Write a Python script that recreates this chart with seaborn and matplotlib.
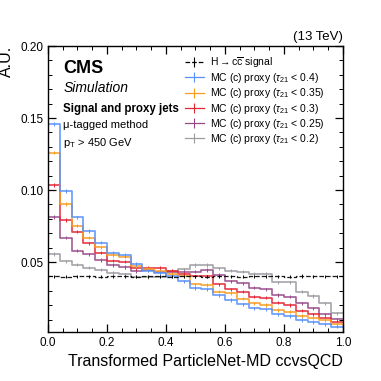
import numpy as np
import pandas as pd
import seaborn as sns
import matplotlib.pyplot as plt
from matplotlib.lines import Line2D
from matplotlib.ticker import MultipleLocator

# 25 bins of width 0.04 on the transformed score
edges = np.linspace(0.0, 1.0, 26)
centers = 0.5 * (edges[:-1] + edges[1:])

signal = [0.0400, 0.0399, 0.0401, 0.0400, 0.0399, 0.0401, 0.0400, 0.0398, 0.0400, 0.0401,
          0.0399, 0.0400, 0.0401, 0.0399, 0.0400, 0.0400, 0.0399, 0.0401, 0.0400, 0.0400,
          0.0398, 0.0403, 0.0401, 0.0400, 0.0400]
proxy_04 = [0.1460, 0.0995, 0.0810, 0.0715, 0.0634, 0.0565, 0.0549, 0.0486, 0.0440, 0.0425,
            0.0400, 0.0365, 0.0320, 0.0310, 0.0268, 0.0235, 0.0206, 0.0178, 0.0171, 0.0137,
            0.0125, 0.0097, 0.0083, 0.0067, 0.0051]
proxy_035 = [0.1260, 0.0903, 0.0752, 0.0669, 0.0602, 0.0549, 0.0537, 0.0474, 0.0455, 0.0440,
             0.0420, 0.0400, 0.0345, 0.0340, 0.0294, 0.0282, 0.0245, 0.0213, 0.0201, 0.0167,
             0.0155, 0.0125, 0.0113, 0.0097, 0.0069]
proxy_03 = [0.1035, 0.0792, 0.0711, 0.0630, 0.0565, 0.0509, 0.0502, 0.0460, 0.0460, 0.0460,
            0.0440, 0.0420, 0.0400, 0.0400, 0.0345, 0.0310, 0.0294, 0.0259, 0.0252, 0.0217,
            0.0201, 0.0162, 0.0137, 0.0113, 0.0085]
proxy_025 = [0.0812, 0.0669, 0.0579, 0.0553, 0.0514, 0.0479, 0.0467, 0.0438, 0.0444, 0.0432,
             0.0432, 0.0430, 0.0433, 0.0444, 0.0410, 0.0365, 0.0352, 0.0322, 0.0310, 0.0271,
             0.0260, 0.0213, 0.0178, 0.0137, 0.0102]
proxy_02 = [0.0556, 0.0505, 0.0482, 0.0462, 0.0448, 0.0425, 0.0415, 0.0398, 0.0395, 0.0398,
            0.0440, 0.0450, 0.0479, 0.0480, 0.0456, 0.0440, 0.0433, 0.0417, 0.0417, 0.0359,
            0.0359, 0.0294, 0.0264, 0.0213, 0.0144]
stat_err = 0.0012

labels = [r"H$\rightarrow$c$\overline{\mathrm{c}}$ signal",
          r"MC (c) proxy ($\tau_{21}$ < 0.4)",
          r"MC (c) proxy ($\tau_{21}$ < 0.35)",
          r"MC (c) proxy ($\tau_{21}$ < 0.3)",
          r"MC (c) proxy ($\tau_{21}$ < 0.25)",
          r"MC (c) proxy ($\tau_{21}$ < 0.2)"]
series = [signal, proxy_04, proxy_035, proxy_03, proxy_025, proxy_02]
colors = ["black", "#5790fc", "#f89c20", "#e42536", "#964a8b", "#9c9ca1"]
styles = ["--", "-", "-", "-", "-", "-"]

plt.rcParams.update({
    'font.family': ['Liberation Sans', 'DejaVu Sans'],
    'mathtext.fontset': 'custom',
    'mathtext.rm': 'Liberation Sans',
    'mathtext.it': 'Liberation Sans:italic',
    'xtick.direction': 'in', 'ytick.direction': 'in',
    'xtick.top': True, 'ytick.right': True,
    'xtick.major.size': 6, 'ytick.major.size': 6,
    'xtick.minor.size': 3, 'ytick.minor.size': 3,
    'xtick.major.width': 0.9, 'ytick.major.width': 0.9,
    'xtick.minor.width': 0.7, 'ytick.minor.width': 0.7,
    'xtick.minor.visible': True, 'ytick.minor.visible': True,
    'xtick.labelsize': 8.5, 'ytick.labelsize': 8.5,
    'axes.axisbelow': False,
})

fig = plt.figure(figsize=(3.81, 3.81), dpi=100)
ax = fig.add_axes([0.126, 0.129, 0.774, 0.750])

for vals, col, ls in zip(series[::-1], colors[::-1], styles[::-1]):
    df = pd.DataFrame({"x": centers, "w": vals})
    sns.histplot(data=df, x="x", weights="w", binwidth=0.04, binrange=(0, 1),
                 element="step", fill=False, color=col, linestyle=ls,
                 linewidth=1.2 if ls == "-" else 0.9, alpha=0.9, ax=ax)
    ax.errorbar(centers, vals, yerr=stat_err, fmt="none", ecolor=col, elinewidth=0.7)

handles = [Line2D([], [], color=col, linestyle=ls, marker="|", markersize=7,
                  markeredgewidth=0.8, linewidth=0.9)
           for col, ls in zip(colors, styles)]

ax.set_xlim(0, 1)
ax.set_ylim(0.0015, 0.2)
ax.xaxis.set_major_locator(MultipleLocator(0.2))
ax.xaxis.set_minor_locator(MultipleLocator(0.05))
ax.yaxis.set_major_locator(MultipleLocator(0.05))
ax.yaxis.set_minor_locator(MultipleLocator(0.01))
ax.xaxis.set_major_formatter(lambda v, p: f"{v:.1f}")
ax.yaxis.set_major_formatter(lambda v, p: f"{v:.2f}")
ax.set_axisbelow(False)
for s in ax.spines.values():
    s.set_linewidth(1.0)
    s.set_color("black")

ax.set_xlabel("Transformed ParticleNet-MD ccvsQCD", fontsize=11.5, loc="right")
ax.set_ylabel("A.U.", fontsize=11.5, loc="top")

ax.text(0.052, 0.906, "CMS", transform=ax.transAxes, fontsize=13, fontweight="bold")
ax.text(0.052, 0.839, "Simulation", transform=ax.transAxes, fontsize=10, style="italic")
ax.text(0.052, 0.770, "Signal and proxy jets", transform=ax.transAxes, fontsize=8.3,
        fontweight="bold")
ax.text(0.052, 0.713, "\u03bc-tagged method", transform=ax.transAxes, fontsize=8.0)
ax.text(0.052, 0.652, r"p$_\mathrm{T}$ > 450 GeV", transform=ax.transAxes, fontsize=8.0)
ax.text(1.0, 1.01, "(13 TeV)", transform=ax.transAxes, fontsize=9.5, ha="right", va="bottom")

ax.legend(handles=handles, labels=labels, loc="upper right", bbox_to_anchor=(0.96, 0.99),
          frameon=False, fontsize=7.5, handlelength=1.8, handletextpad=0.6,
          labelspacing=0.12, borderaxespad=0.2)

fig.savefig("out.png", dpi=100)
